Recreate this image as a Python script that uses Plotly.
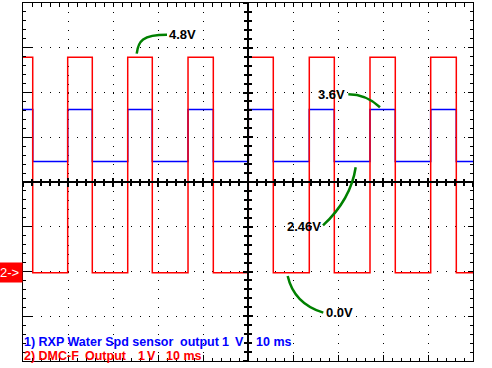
import plotly.graph_objects as go

# ---- data (time in ms, values in volts) ----
red_edges_ms = [0, 2.16, 9.93, 15.4, 23.27, 28.73, 36.67, 42.29, 50.07, 55.62,
                63.62, 69.18, 77.11, 82.73, 90.6, 96.29, 100]
red_levels_v = [4.79, -0.03, 4.79, -0.03, 4.79, -0.03, 4.79, -0.03, 4.79, -0.03,
                4.79, -0.03, 4.79, -0.03, 4.79, -0.03, -0.03]
blue_edges_ms = red_edges_ms
blue_levels_v = [3.62, 2.46, 3.62, 2.46, 3.62, 2.46, 3.62, 2.46, 3.62, 2.46,
                 3.62, 2.46, 3.62, 2.46, 3.62, 2.46, 2.46]

labels = ["4.8V", "3.6V", "2.46V", "0.0V"]
label_x = [32.2, 71.7, 66.5, 67.0]
label_y = [5.29, 3.96, 1.01, -0.92]
label_anchor = ["left", "right", "right", "left"]
# cubic bezier control points of the green pointers (ms, V)
curves = [
    [(25.27, 4.87), (25.6, 5.15), (26.5, 5.29), (32.0, 5.29)],
    [(72.29, 3.96), (74.89, 3.96), (77.11, 3.88), (79.33, 3.67)],
    [(66.67, 1.03), (69.98, 1.34), (73.11, 1.78), (73.93, 2.33)],
    [(58.82, -0.10), (59.56, -0.43), (61.56, -0.76), (66.73, -0.92)],
]

# channel legend lines, split into the words as they are spaced on screen
legend1_parts = ["1) RXP Water Spd sensor", "output", "1", "V", "10 ms"]
legend1_pos = [0.0, 0.347, 0.441, 0.469, 0.516]
legend2_parts = ["2) DMC-F", "Output", "1", "V", "10 ms"]
legend2_pos = [0.0, 0.136, 0.254, 0.273, 0.316]

FONT = "Liberation Sans, Arial, sans-serif"

fig = go.Figure()
fig.add_trace(go.Scatter(x=blue_edges_ms, y=blue_levels_v, mode="lines",
                         line=dict(color="#0000ff", width=1.5, shape="hv"),
                         hoverinfo="skip", showlegend=False))
fig.add_trace(go.Scatter(x=red_edges_ms, y=red_levels_v, mode="lines",
                         line=dict(color="#ff0000", width=1.5, shape="hv"),
                         hoverinfo="skip", showlegend=False))
# empty traces to attach the extra axes
for xa, ya in [("x2", "y"), ("x3", "y"), ("x4", "y"), ("x", "y2"), ("x", "y3"), ("x", "y4")]:
    fig.add_trace(go.Scatter(x=[], y=[], xaxis=xa, yaxis=ya, showlegend=False))

common_x = dict(range=[0, 100], dtick=10, tick0=0, showticklabels=False,
                zeroline=False, tickcolor="black", linecolor="black", fixedrange=True)
common_y = dict(range=[-2, 6], dtick=1, tick0=0, showticklabels=False,
                zeroline=False, tickcolor="black", linecolor="black", fixedrange=True)

fig.update_layout(
    width=492, height=368,
    margin=dict(l=23, r=19, t=3, b=7, pad=0),
    paper_bgcolor="white", plot_bgcolor="white",
    xaxis=dict(**common_x, showgrid=True, gridcolor="black", gridwidth=1,
               griddash="1px,7.95px", ticks="inside", ticklen=6, tickwidth=1,
               minor=dict(dtick=2, ticks="inside", ticklen=3, tickcolor="black"),
               showline=True, linewidth=1),
    xaxis2=dict(**common_x, overlaying="x", side="top", anchor="y", showgrid=False,
                ticks="inside", ticklen=4,
                minor=dict(dtick=2, ticks="inside", ticklen=4, tickcolor="black"),
                showline=True, linewidth=1),
    xaxis3=dict(**common_x, overlaying="x", anchor="free", position=0.5, showgrid=False,
                ticks="outside", ticklen=4, tickwidth=1.5,
                minor=dict(dtick=2, ticks="outside", ticklen=3, tickcolor="black"),
                showline=True, linewidth=2),
    xaxis4=dict(**common_x, overlaying="x", anchor="free", position=0.5, showgrid=False,
                ticks="inside", ticklen=4, tickwidth=1.5,
                minor=dict(dtick=2, ticks="inside", ticklen=3, tickcolor="black"),
                showline=False),
    yaxis=dict(**common_y, showgrid=True, gridcolor="black", gridwidth=1,
               griddash="1px,8px", ticks="inside", ticklen=9, tickwidth=1,
               minor=dict(dtick=0.2, ticks="inside", ticklen=3, tickcolor="black"),
               showline=True, linewidth=1),
    yaxis2=dict(**common_y, overlaying="y", side="right", anchor="x", showgrid=False,
                ticks="inside", ticklen=5,
                minor=dict(dtick=0.2, ticks="inside", ticklen=3, tickcolor="black"),
                showline=True, linewidth=1),
    yaxis3=dict(**common_y, overlaying="y", anchor="free", position=0.5, showgrid=False,
                ticks="outside", ticklen=4, tickwidth=1.5,
                minor=dict(dtick=0.2, ticks="outside", ticklen=3, tickcolor="black"),
                showline=True, linewidth=2),
    yaxis4=dict(**common_y, overlaying="y", anchor="free", position=0.5, showgrid=False,
                ticks="inside", ticklen=4, tickwidth=1.5,
                minor=dict(dtick=0.2, ticks="inside", ticklen=3, tickcolor="black"),
                showline=False),
    showlegend=False,
)

for pts in curves:
    (x0, y0), (x1, y1), (x2, y2), (x3, y3) = pts
    fig.add_shape(type="path", xref="x", yref="y",
                  path=f"M {x0},{y0} C {x1},{y1} {x2},{y2} {x3},{y3}",
                  line=dict(color="#008000", width=2.5), layer="above")

for txt, lx, ly, anc in zip(labels, label_x, label_y, label_anchor):
    fig.add_annotation(x=lx, y=ly, xref="x", yref="y", text=f"<b>{txt}</b>",
                       showarrow=False, xanchor=anc, yanchor="middle",
                       font=dict(family=FONT, size=13, color="black"),
                       bgcolor="rgba(255,255,255,0)", borderpad=0)

for parts, poss, ypos, col in [(legend1_parts, legend1_pos, 0.053, "#0000ff"),
                               (legend2_parts, legend2_pos, 0.014, "#ff0000")]:
    for txt, px in zip(parts, poss):
        fig.add_annotation(x=px, y=ypos, xref="paper", yref="paper", text=f"<b>{txt}</b>",
                           showarrow=False, xanchor="left", yanchor="middle",
                           font=dict(family=FONT, size=12.5, color=col), borderpad=0)

fig.add_annotation(x=0, y=-0.03, xref="paper", yref="y", text="2->",
                   showarrow=False, xanchor="right", yanchor="middle",
                   width=21, height=17, align="left", borderpad=1,
                   bgcolor="#ff0000", font=dict(family=FONT, size=13, color="white"))

fig.write_html("out.html", config={"displayModeBar": False},
               post_script="document.body.style.margin='0px';document.body.style.overflow='hidden';")
